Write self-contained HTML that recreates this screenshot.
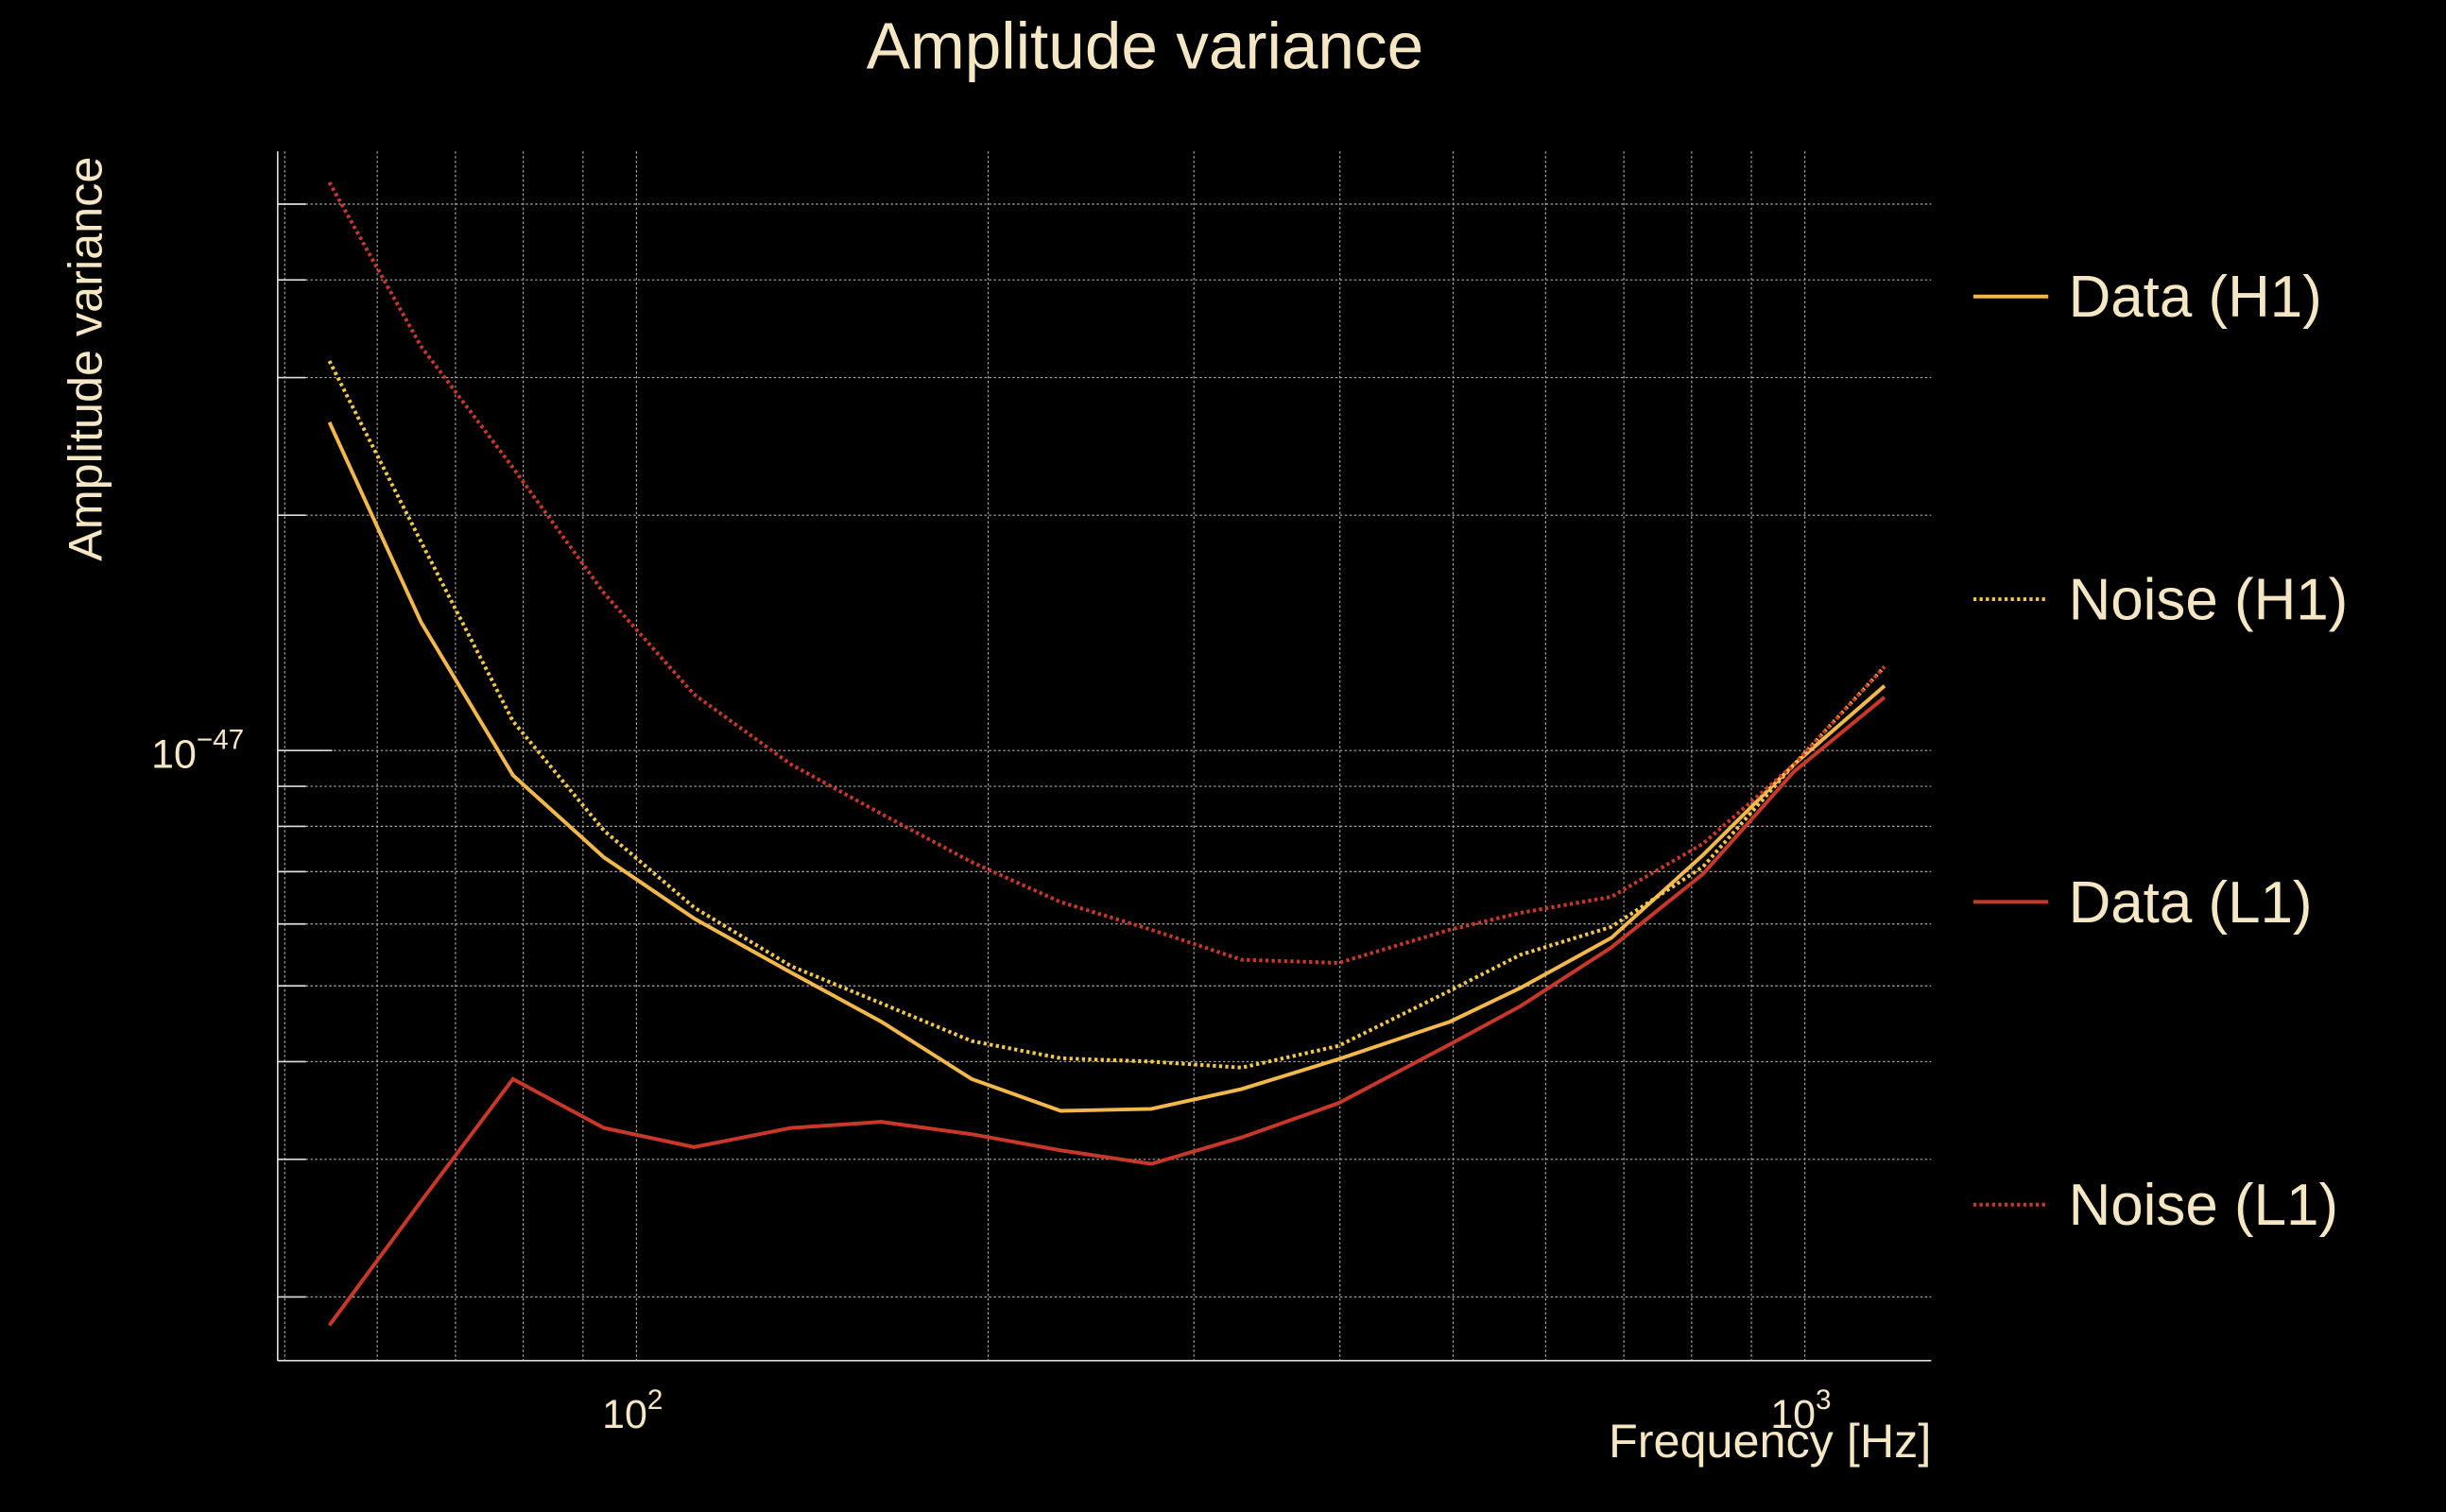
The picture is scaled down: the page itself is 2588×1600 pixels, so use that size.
<!DOCTYPE html>
<html><head><meta charset="utf-8">
<style>
html,body{margin:0;padding:0;background:#000;}
svg{display:block;}
text{font-family:"Liberation Sans",sans-serif;fill:#f5e6c4;}
</style></head>
<body>
<svg id="chart" width="2588" height="1600" viewBox="0 0 1568 969" preserveAspectRatio="none" xmlns="http://www.w3.org/2000/svg">
<rect x="0" y="0" width="1568" height="969" fill="#000"/>
<text x="734" y="44" font-size="42" text-anchor="middle">Amplitude variance</text>
<g id="grid"></g>
<g id="series"></g>
<line x1="178" y1="97" x2="178" y2="872" stroke="#ddd" stroke-width="1"/>
<line x1="178" y1="872" x2="1238" y2="872" stroke="#ddd" stroke-width="1"/>
<text x="97" y="492" font-size="26">10<tspan dy="-12" font-size="18">−47</tspan></text>
<text x="386" y="915" font-size="26">10<tspan dy="-12" font-size="18">2</tspan></text>
<text x="1135" y="915" font-size="26">10<tspan dy="-12" font-size="18">3</tspan></text>
<text x="1238" y="934" font-size="30.5" text-anchor="end">Frequency [Hz]</text>
<text transform="translate(65,230) rotate(-90)" font-size="30.5" text-anchor="middle">Amplitude variance</text>
<g id="legend"></g>
</svg>
<script>
const freqs = [54.6,65.4,78.4,93.8,112,135.6,162,193.6,230.7,275.8,329.6,399,497,571,683,818,979,1170];
// values in units of 1e-48
const dataH1 = [26.3,14.6,9.3,7.3,6.1,5.2,4.5,3.8,3.46,3.48,3.69,4.03,4.5,4.97,5.76,7.35,9.6,12.1];
const noiseH1 = [31.5,18.5,10.9,7.9,6.3,5.3,4.75,4.25,4.04,4.0,3.93,4.19,4.93,5.48,5.95,7.1,9.6,12.8];
const dataL1 = [1.84,2.65,3.8,3.29,3.11,3.29,3.35,3.23,3.08,2.96,3.2,3.54,4.21,4.71,5.6,6.95,9.4,11.7];
const noiseL1 = [53.3,32.9,23.0,15.9,11.8,9.6,8.3,7.2,6.4,5.9,5.4,5.35,5.9,6.2,6.5,7.6,9.6,12.8];
const xGridVals = [50,60,70,80,90,100,200,300,400,500,600,700,800,900,1000];
const yGridVals = [2,3,4,5,6,7,8,9,10,20,30,40,50];
const legendLabels = ["Data (H1)","Noise (H1)","Data (L1)","Noise (L1)"];

const NS="http://www.w3.org/2000/svg";
function xs(f){return 408+749*(Math.log10(f)-2);}
function ys(v){return 481-501*(Math.log10(v)-1);}
const grid=document.getElementById('grid');
xGridVals.forEach(f=>{
  const l=document.createElementNS(NS,'line');
  
  
  l.setAttribute('x1',xs(f));l.setAttribute('x2',xs(f));
  l.setAttribute('y1',97);l.setAttribute('y2',872);
  l.setAttribute('stroke','#aaa');l.setAttribute('stroke-width','0.7');l.setAttribute('stroke-dasharray','1.5,1.5');
  grid.appendChild(l);
});
yGridVals.forEach(v=>{
  const l=document.createElementNS(NS,'line');
  
  
  l.setAttribute('x1',178);l.setAttribute('x2',1238);
  l.setAttribute('y1',ys(v));l.setAttribute('y2',ys(v));
  l.setAttribute('stroke','#aaa');l.setAttribute('stroke-width','0.7');l.setAttribute('stroke-dasharray','1.5,1.5');
  grid.appendChild(l);
  const t=document.createElementNS(NS,'line');
  
  
  t.setAttribute('x1',178);t.setAttribute('x2',v===10?213:196);
  t.setAttribute('y1',ys(v));t.setAttribute('y2',ys(v));
  t.setAttribute('stroke','#ddd');t.setAttribute('stroke-width','1');
  grid.appendChild(t);
});
const series=[
  {vals:dataH1,color:'#f2b84b',dash:null,name:'data-h1-line'},
  {vals:noiseH1,color:'#f2c84b',dash:'2,2',name:'noise-h1-line'},
  {vals:dataL1,color:'#c8382a',dash:null,name:'data-l1-line'},
  {vals:noiseL1,color:'#c8382a',dash:'2,2',name:'noise-l1-line'}
];
const sg=document.getElementById('series');
series.forEach(s=>{
  const p=document.createElementNS(NS,'polyline');
  
  
  p.setAttribute('points',s.vals.map((v,i)=>xs(freqs[i])+','+ys(v)).join(' '));
  p.setAttribute('fill','none');p.setAttribute('stroke',s.color);p.setAttribute('stroke-width','2.4');
  if(s.dash)p.setAttribute('stroke-dasharray',s.dash);
  sg.appendChild(p);
});
const lg=document.getElementById('legend');
legendLabels.forEach((lab,i)=>{
  const y=190+i*194;
  const l=document.createElementNS(NS,'line');
  
  
  l.setAttribute('x1',1265);l.setAttribute('x2',1313);l.setAttribute('y1',y);l.setAttribute('y2',y);
  l.setAttribute('stroke',series[i].color);l.setAttribute('stroke-width','2.4');
  if(series[i].dash)l.setAttribute('stroke-dasharray',series[i].dash);
  lg.appendChild(l);
  const t=document.createElementNS(NS,'text');
  
  
  t.setAttribute('x',1326);t.setAttribute('y',y+13);t.setAttribute('font-size','37.5');
  t.textContent=lab;
  lg.appendChild(t);
});
</script>
</body></html>
